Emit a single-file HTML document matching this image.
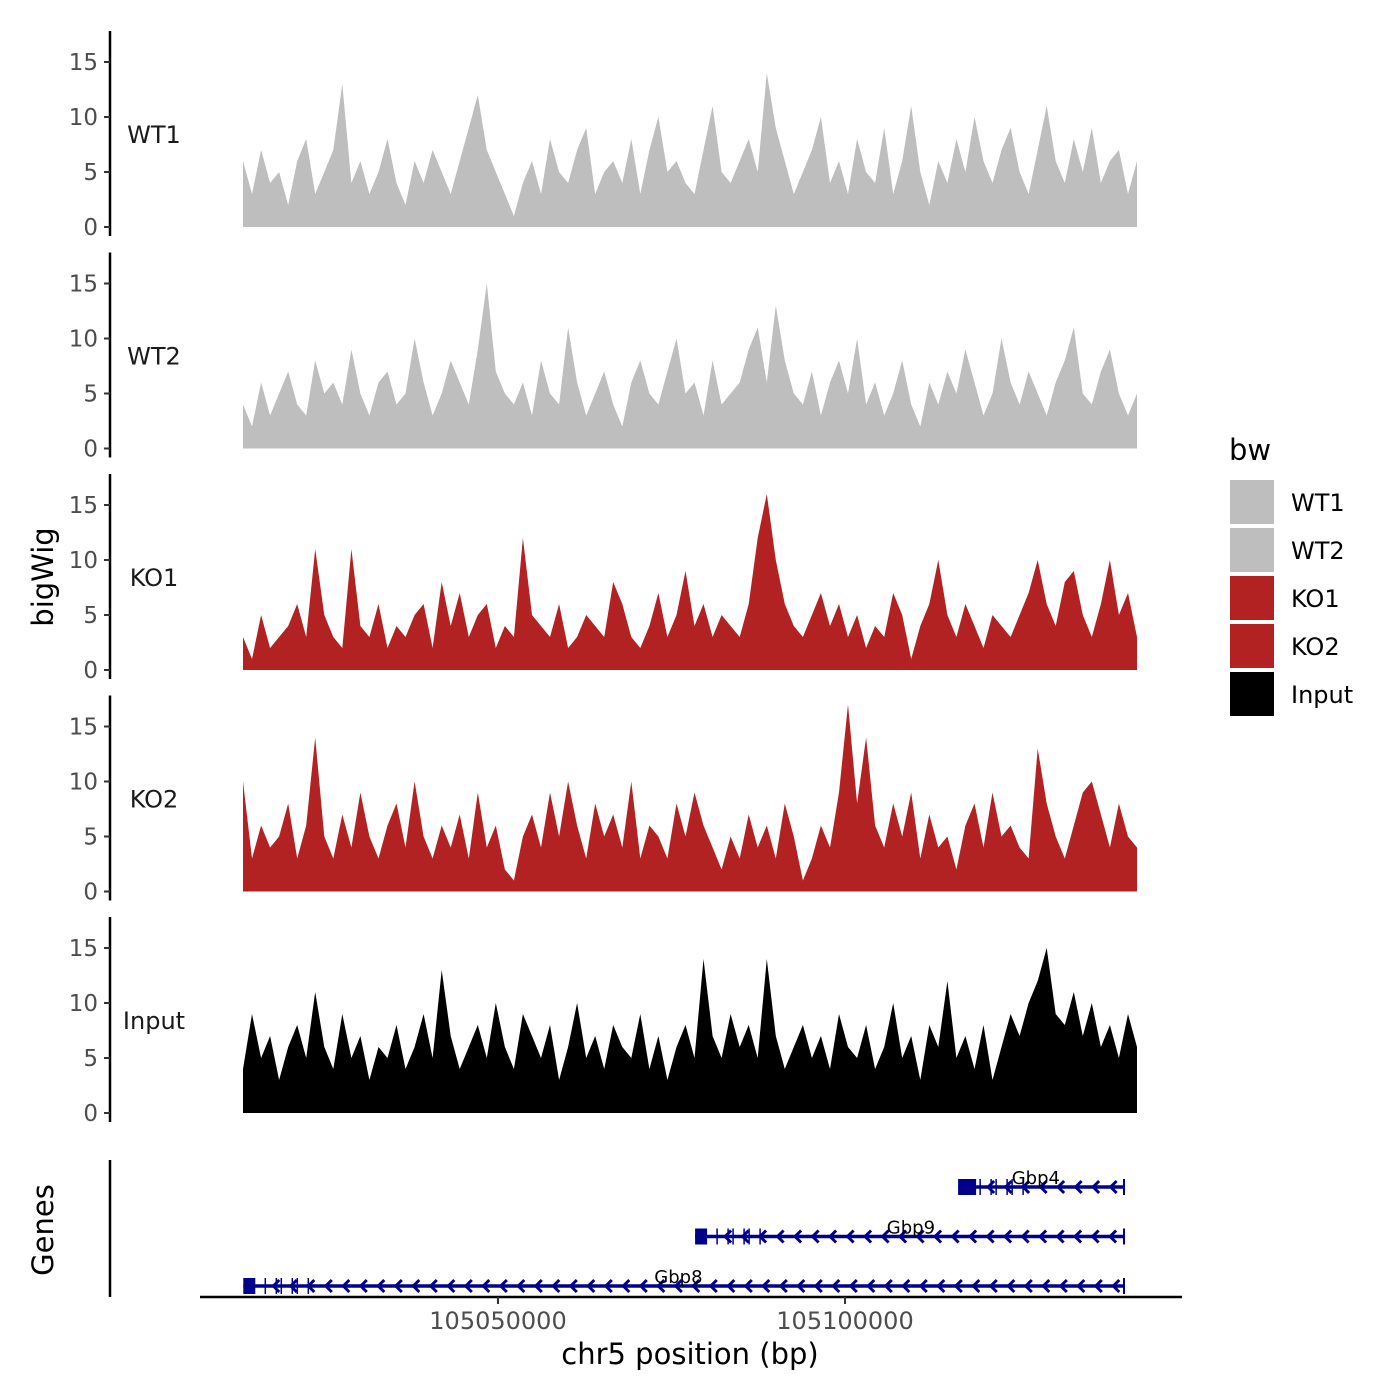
<!DOCTYPE html>
<html><head><meta charset="utf-8"><style>
html,body{margin:0;padding:0;background:#fff;}
svg{display:block;font-family:"DejaVu Sans","Liberation Sans",sans-serif;}
</style></head><body>
<svg id="chart" width="1400" height="1400" viewBox="0 0 1400 1400" xmlns="http://www.w3.org/2000/svg">
<g id="panels"></g>
<g id="genes"></g>
<text x="53" y="577" font-size="29" text-anchor="middle" transform="rotate(-90 53 577)" fill="#000">bigWig</text>
<text x="53" y="1230" font-size="29" text-anchor="middle" transform="rotate(-90 53 1230)" fill="#000">Genes</text>
<text x="690" y="1364" font-size="29" text-anchor="middle" fill="#000">chr5 position (bp)</text>
<g id="legend">
<text x="1229" y="460" font-size="29" fill="#000">bw</text>
</g>
</svg>
<script>
const trackNames = ["WT1","WT2","KO1","KO2","Input"];
const trackColors = ["#bebebe","#bebebe","#b22222","#b22222","#000000"];
const yTicks = [0,5,10,15];
const wt1 = [6,3,7,4,5,2,6,8,3,5,7,13,4,6,3,5,8,4,2,6,4,7,5,3,6,9,12,7,5,3,1,4,6,3,8,5,4,7,9,3,5,6,4,8,3,7,10,5,6,4,3,7,11,5,4,6,8,5,14,9,6,3,5,7,10,4,6,3,8,5,4,9,3,6,11,5,2,6,4,8,5,10,6,4,7,9,5,3,7,11,6,4,8,5,9,4,6,7,3,6];
const wt2 = [4,2,6,3,5,7,4,3,8,5,6,4,9,5,3,6,7,4,5,10,6,3,5,8,6,4,9,15,7,5,4,6,3,8,5,4,11,6,3,5,7,4,2,6,8,5,4,7,10,5,6,3,8,4,5,6,9,11,6,13,8,5,4,7,3,6,8,5,10,4,6,3,5,8,4,2,6,4,7,5,9,6,3,5,10,6,4,7,5,3,6,8,11,5,4,7,9,5,3,5];
const ko1 = [3,1,5,2,3,4,6,3,11,5,3,2,11,4,3,6,2,4,3,5,6,2,8,4,7,3,5,6,2,4,3,12,5,4,3,6,2,3,5,4,3,8,6,3,2,4,7,3,5,9,4,6,3,5,4,3,6,12,16,10,6,4,3,5,7,4,6,3,5,2,4,3,7,5,1,4,6,10,5,3,6,4,2,5,4,3,5,7,10,6,4,8,9,5,3,6,10,5,7,3];
const ko2 = [10,3,6,4,5,8,3,6,14,5,3,7,4,9,5,3,6,8,4,10,5,3,6,4,7,3,9,4,6,2,1,5,7,4,9,5,10,6,3,8,5,7,4,10,3,6,5,3,8,5,9,6,4,2,5,3,7,4,6,3,8,5,1,3,6,4,9,17,8,14,6,4,8,5,9,3,7,4,5,2,6,8,4,9,5,6,4,3,13,8,5,3,6,9,10,7,4,8,5,4];
const inp = [4,9,5,7,3,6,8,5,11,6,4,9,5,7,3,6,5,8,4,6,9,5,13,7,4,6,8,5,10,6,4,9,7,5,8,3,6,10,5,7,4,8,6,5,9,4,7,3,6,8,5,14,7,5,9,6,8,5,14,7,4,6,8,5,7,4,9,6,5,8,4,6,10,5,7,3,8,6,12,5,7,4,8,3,6,9,7,10,12,15,9,8,11,7,10,6,8,5,9,6];
const trackData = [wt1,wt2,ko1,ko2,inp];

const geneNames = ["Gbp4","Gbp9","Gbp8"];
const geneStarts = [105116300,105078400,105013300];
const geneEnds = [105140200,105140200,105140200];
const geneLabelPos = [105127500,105109500,105076000];
const xTicks = [105050000,105100000];

const NS="http://www.w3.org/2000/svg";
function el(tag, attrs, parent){const e=document.createElementNS(NS,tag);for(const k in attrs)e.setAttribute(k,attrs[k]);parent.appendChild(e);return e;}
const X0=243,X1=1137;
const bpX = bp => 498 + (bp-105050000)*347/50000;
const panels=document.getElementById('panels');
trackNames.forEach((name,i)=>{
  const base=227+i*221.5;
  const yS=v=>base-v*11;
  const g=el('g',{},panels);
  
  
  const d=trackData[i];
  let p='M'+X0+','+base;
  d.forEach((v,j)=>{const x=X0+j*(X1-X0)/(d.length-1);p+=' L'+x.toFixed(1)+','+yS(v).toFixed(1);});
  p+=' L'+X1+','+base+' Z';
  const area=el('path',{d:p,fill:trackColors[i]},g);
  
  
  const ax=el('line',{x1:110,x2:110,y1:base-196,y2:base+9,stroke:'#000','stroke-width':2.5},g);
  
  
  yTicks.forEach(t=>{
    el('line',{x1:104,x2:110,y1:yS(t),y2:yS(t),stroke:'#333','stroke-width':2},g);
    const tx=el('text',{x:98,y:yS(t)+8,'font-size':23,'text-anchor':'end',fill:'#4d4d4d'},g);
    tx.textContent=t;
    
    
  });
  const lb=el('text',{x:154,y:base-84,'font-size':24,'text-anchor':'middle',fill:'#1a1a1a'},g);
  lb.textContent=name;
  
  
});
const leg=document.getElementById('legend');
trackNames.forEach((name,i)=>{
  const y=480+i*48;
  const r=el('rect',{x:1230,y:y,width:44,height:44,fill:trackColors[i]},leg);
  
  
  const t=el('text',{x:1291,y:y+31,'font-size':24,fill:'#000'},leg);
  t.textContent=name;
  
  
});
const gg=document.getElementById('genes');
const gl=el('line',{x1:110,x2:110,y1:1160,y2:1297,stroke:'#000','stroke-width':2.5},gg);


const xl=el('line',{x1:200,x2:1182,y1:1297,y2:1297,stroke:'#000','stroke-width':2.5},gg);


xTicks.forEach(t=>{
  el('line',{x1:bpX(t),x2:bpX(t),y1:1297,y2:1304,stroke:'#333','stroke-width':2},gg);
  const tx=el('text',{x:bpX(t),y:1329,'font-size':24,'text-anchor':'middle',fill:'#4d4d4d'},gg);
  tx.textContent=t;
  
  
});
geneNames.forEach((name,i)=>{
  const y=1187+i*49.5;
  const x0=bpX(geneStarts[i]),x1=bpX(geneEnds[i]);
  const g=el('g',{stroke:'#00008b',fill:'#00008b'},gg);
  
  
  el('line',{x1:x0,x2:x1,y1:y,y2:y,'stroke-width':3.5},g);
  el('rect',{x:x0,y:y-8,width:i==0?18:12,height:16,stroke:'none'},g);
  for(let k=0;k<6;k++){const xx=x0+22+k*8+(k%2)*3;el('line',{x1:xx,x2:xx,y1:y-8,y2:y+8,'stroke-width':1.5},g);}
  el('line',{x1:x1,x2:x1,y1:y-8,y2:y+8,'stroke-width':2},g);
  for(let xx=x0+30;xx<x1-4;xx+=17.5){el('path',{d:'M'+(xx+6)+','+(y-6)+' L'+xx+','+y+' L'+(xx+6)+','+(y+6),fill:'none','stroke-width':3},g);}
  const t=el('text',{x:bpX(geneLabelPos[i]),y:y-3,'font-size':18,'text-anchor':'middle',fill:'#000',stroke:'none'},gg);
  t.textContent=name;
  
  
});
</script>
</body></html>
